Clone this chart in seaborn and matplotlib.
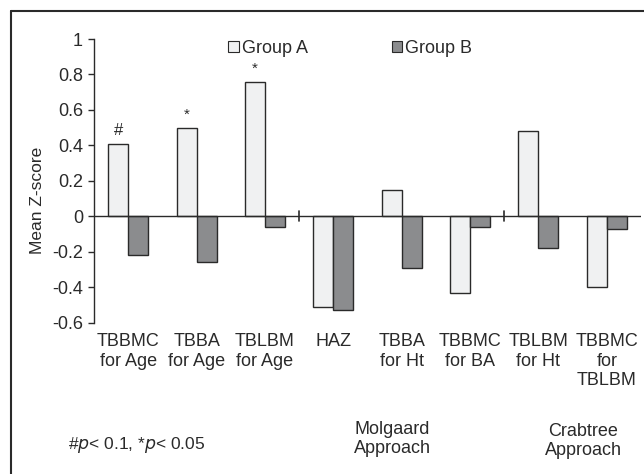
import numpy as np
import pandas as pd
import matplotlib
matplotlib.use("Agg")
import matplotlib.pyplot as plt
import seaborn as sns
from matplotlib.patches import Patch
from matplotlib.lines import Line2D

sns.set_style("white")
plt.rcParams["font.family"] = ["Liberation Sans", "DejaVu Sans"]
plt.rcParams["axes.unicode_minus"] = False

# data
measures = ["TBBMC\nfor Age", "TBBA\nfor Age", "TBLBM\nfor Age", "HAZ",
            "TBBA\nfor Ht", "TBBMC\nfor BA", "TBLBM\nfor Ht", "TBBMC\nfor\nTBLBM"]
group_a = [0.41, 0.50, 0.76, -0.51, 0.15, -0.43, 0.48, -0.40]
group_b = [-0.22, -0.26, -0.06, -0.53, -0.29, -0.06, -0.18, -0.07]
marks = ["#", "*", "*", "", "", "", "", ""]
yticks = [1, 0.8, 0.6, 0.4, 0.2, 0, -0.2, -0.4, -0.6]
ytick_labels = ["1", "0.8", "0.6", "0.4", "0.2", "0", "-0.2", "-0.4", "-0.6"]

df = pd.DataFrame({
    "measure": measures * 2,
    "z": group_a + group_b,
    "group": ["Group A"] * len(measures) + ["Group B"] * len(measures),
})

light = "#f0f1f2"
dark = "#8b8c8e"
ink = "#2a2a2a"
fs = 13

fig = plt.figure(figsize=(6.44, 4.74), dpi=100)
ax = fig.add_axes([94 / 644, 1 - 322.7 / 474, (641 - 94) / 644, (322.7 - 39) / 474])

sns.barplot(data=df, x="measure", y="z", hue="group", order=measures,
            palette=[light, dark], edgecolor=ink, linewidth=1.0,
            width=0.585, gap=0, ax=ax, legend=False)

ax.set_xlim(-0.5, 7.5)
ax.set_ylim(-0.6, 1)
ax.set_yticks(yticks)
ax.set_yticklabels(ytick_labels)
ax.set_xlabel("")
ax.set_ylabel("")
for s in ["top", "right", "bottom"]:
    ax.spines[s].set_visible(False)
ax.spines["left"].set_color(ink)
ax.spines["left"].set_linewidth(1.0)
ax.tick_params(axis="y", left=True, length=4, width=1, color=ink, pad=4,
               labelsize=fs, labelcolor=ink)
ax.tick_params(axis="x", length=0, pad=7.5, labelsize=fs, labelcolor=ink)

ax.axhline(0, color=ink, linewidth=1.0, zorder=3)
for xb in [2.5, 5.5]:
    ax.plot([xb, xb], [-0.025, 0.028], color=ink, linewidth=1.2, zorder=3)

# significance marks above Group A bars
for i, (m, v) in enumerate(zip(marks, group_a)):
    if m:
        off = 0.03 if m == "#" else 0.035
        ax.text(i - 0.146, v + off, m, ha="center", va="bottom",
                fontsize=12 if m == "#" else 11, color=ink)

handles = [Patch(facecolor=light, edgecolor=ink, linewidth=0.8, label="Group A"),
           Patch(facecolor=dark, edgecolor=ink, linewidth=0.8, label="Group B")]
fig.legend(handles=handles, loc="upper left", bbox_to_anchor=(228 / 644, 1 - 40 / 474),
           ncol=2, frameon=False, fontsize=fs, handlelength=0.6, handleheight=0.6,
           handletextpad=0.15, columnspacing=4.65, borderpad=0, borderaxespad=0,
           labelcolor=ink)

fig.text(37 / 644, 1 - 200 / 474, "Mean Z-score", rotation=90, ha="center",
         va="center", fontsize=12.5, color=ink)
fig.text(68 / 644, 1 - 445 / 474, "#$\\it{p}$< 0.1, *$\\it{p}$< 0.05", ha="left",
         va="center", fontsize=12.5, color=ink)
fig.text(392 / 644, 1 - 439 / 474, "Molgaard\nApproach", ha="center",
         va="center", fontsize=fs, color=ink)
fig.text(583 / 644, 1 - 441 / 474, "Crabtree\nApproach", ha="center",
         va="center", fontsize=fs, color=ink)

# outer frame (top and left edges)
fig.add_artist(Line2D([11 / 644, 11 / 644], [0, 1 - 11 / 474], color=ink,
                      linewidth=1.5, transform=fig.transFigure))
fig.add_artist(Line2D([11 / 644, 1], [1 - 11 / 474, 1 - 11 / 474], color=ink,
                      linewidth=1.5, transform=fig.transFigure))

fig.savefig("out.png", dpi=100)
